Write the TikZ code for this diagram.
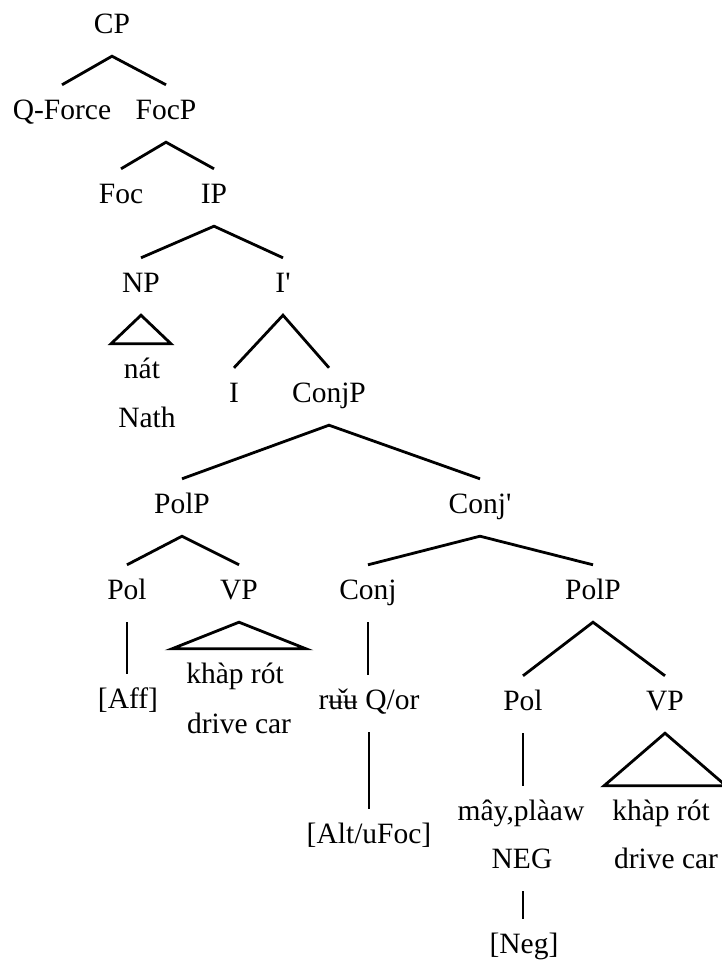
\documentclass[tikz,border=0pt]{standalone}
\usepackage{fontspec}
\setmainfont{Liberation Serif}
\newfontfamily\treefont{Liberation Serif}
\usepackage{tikz}

\begin{document}
\begin{tikzpicture}[
  x=1pt, y=-1pt,
  lbl/.style={anchor=base, inner xsep=0pt, inner ysep=12pt,
              text height=22pt, text depth=11pt,
              font=\treefont\fontsize{29.5}{34}\selectfont},
  gloss/.style={lbl},
  br/.style={line width=2.8pt},
]
\useasboundingbox (0,0) rectangle (721,961);

% top of the tree
\node[lbl] (cp)     at (112, 33)  {CP};
\node[lbl] (qforce) at (62, 119)  {Q-Force};
\node[lbl] (focp)   at (166, 119) {FocP};
\node[lbl] (foc)    at (121, 203) {Foc};
\node[lbl] (ip)     at (214, 203) {IP};
\node[lbl] (np)     at (141, 292) {NP};
\node[lbl] (ibar)   at (283, 292) {I\textquotesingle};
\node[gloss] (nat)  at (142, 378) {nát};
\node[gloss] (nath) at (147, 427) {Nath};
\node[lbl] (infl)   at (234, 402) {I};
\node[lbl] (conjp)  at (329, 402) {ConjP};

% coordination
\node[lbl] (polpa)  at (182, 513) {PolP};
\node[lbl] (conjbar) at (480, 513) {Conj\textquotesingle};
\node[lbl] (pola)   at (127, 599) {Pol};
\node[lbl] (vpa)    at (239, 599) {VP};
\node[lbl] (conj)   at (368, 599) {Conj};
\node[lbl] (polpb)  at (593, 599) {PolP};
\node[lbl] (aff)    at (128, 708) {[Aff]};
\node[gloss] (khapa)  at (235, 683) {khàp rót};
\node[gloss] (drivea) at (239, 733) {drive car};
\node[lbl] (ruu)    at (369, 709) {rʉ̌ʉ Q/or};
\node[lbl] (alt)    at (369, 843) {[Alt/uFoc]};

% negative disjunct
\node[lbl] (polb)   at (523, 710) {Pol};
\node[lbl] (vpb)    at (665, 710) {VP};
\node[lbl] (may)    at (521, 820) {mây,plàaw};
\node[gloss] (khapb)  at (661, 820) {khàp rót};
\node[lbl] (negg)   at (522, 868) {NEG};
\node[gloss] (driveb) at (666, 868) {drive car};
\node[lbl] (neg)    at (524, 953) {[Neg]};

\draw[br] (qforce.north) -- (cp.south) -- (focp.north);
\draw[br] (foc.north) -- (focp.south) -- (ip.north);
\draw[br] (np.north) -- (ip.south) -- (ibar.north);
\draw[br] (infl.north) -- (ibar.south) -- (conjp.north);
\draw[br] (polpa.north) -- (conjp.south) -- (conjbar.north);
\draw[br] (pola.north) -- (polpa.south) -- (vpa.north);
\draw[br] (conj.north) -- (conjbar.south) -- (polpb.north);
\draw[br] (polb.north) -- (polpb.south) -- (vpb.north);
\draw[br] (pola.south) -- (pola.south |- aff.north);
\draw[br] (conj.south) -- (conj.south |- ruu.north);
\draw[br] (ruu.south) -- (alt.north);
\draw[br] (polb.south) -- (polb.south |- may.north);
\draw[br] (polb.south |- negg.south) -- (polb.south |- neg.north);

% triangles
\draw[br] (np.south) -- ([xshift=-30pt]np.south |- nat.north)
  -- ([xshift=30pt]np.south |- nat.north) -- cycle;
\draw[br] (vpa.south) -- ([xshift=-67pt]vpa.south |- khapa.north)
  -- ([xshift=67pt]vpa.south |- khapa.north) -- cycle;
\draw[br] (vpb.south) -- ([xshift=-61pt]vpb.south |- khapb.north)
  -- ([xshift=61pt]vpb.south |- khapb.north) -- cycle;

\end{tikzpicture}
\end{document}
